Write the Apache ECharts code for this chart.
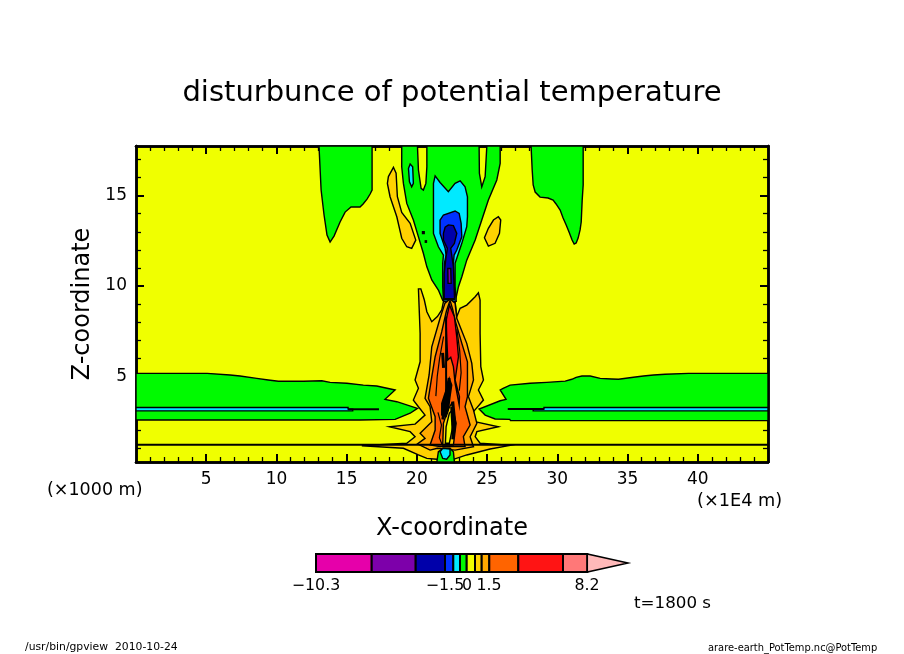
<!DOCTYPE html>
<html>
<head>
    <meta charset="UTF-8">
    <title>disturbunce of potential temperature</title>
    <style>html,body{margin:0;padding:0;background:#fff}#chart{width:904px;height:654px}</style>
</head>
<body>
<div id="chart"></div>
<script src="https://cdn.jsdelivr.net/npm/echarts@6/dist/echarts.min.js"></script>
<script type="text/javascript">
// contour outlines, [x (1E4 m), z (1000 m)]
var leftPlume = [[13.03,17.75],[13.18,15.31],[13.39,13.93],[13.60,12.82],[13.82,12.43],[14.10,12.76],[14.53,13.54],[14.89,14.09],[15.31,14.37],[15.95,14.37],[16.17,14.54],[16.45,14.81],[16.67,15.09],[16.81,15.31],[16.81,17.75]];
var rightPlume = [[28.13,17.75],[28.21,16.42],[28.28,15.59],[28.42,15.20],[28.77,14.92],[29.34,14.87],[29.70,14.76],[29.91,14.54],[30.20,14.20],[30.41,13.76],[30.63,13.37],[30.84,12.98],[31.05,12.54],[31.20,12.32],[31.34,12.38],[31.48,12.65],[31.62,13.10],[31.70,13.54],[31.77,14.76],[31.84,15.59],[31.84,17.75]];
var centerGreen = [[18.92,17.75],[18.92,16.60],[19.04,15.68],[19.28,14.57],[19.75,13.65],[20.11,12.72],[20.46,11.81],[20.71,11.06],[21.06,10.33],[21.53,9.77],[21.84,9.20],[22.72,9.10],[22.96,9.96],[23.20,10.51],[23.55,11.43],[24.15,12.54],[24.62,13.65],[25.09,14.76],[25.69,15.87],[25.93,16.79],[25.93,17.75],[24.98,17.75],[24.86,16.05],[24.62,15.49],[24.45,16.24],[24.43,17.75],[20.71,17.75],[20.71,16.60],[20.64,15.68],[20.46,15.31],[20.30,15.40],[20.11,16.42],[20.04,17.75]];
var leftBand = [[0,5.16],[5.06,5.16],[6.70,5.07],[7.41,5.01],[8.60,4.88],[9.42,4.79],[10.14,4.72],[11.92,4.72],[13.23,4.75],[13.82,4.66],[15.01,4.61],[16.19,4.51],[17.14,4.46],[18.45,4.24],[17.73,3.72],[18.57,3.59],[20.04,3.22],[19.52,2.95],[18.45,2.61],[15.95,2.58],[0,2.58]];
var rightBand = [[45,5.16],[39.34,5.16],[37.68,5.11],[36.85,5.07],[36.13,5.01],[35.42,4.94],[34.35,4.83],[33.88,4.85],[33.05,4.88],[32.34,5.01],[31.75,5.01],[31.34,4.94],[31.03,4.83],[30.56,4.73],[29.25,4.66],[28.06,4.61],[26.64,4.51],[26.14,4.33],[25.93,4.24],[26.35,3.72],[25.93,3.64],[24.43,3.18],[24.86,2.85],[25.57,2.63],[26.61,2.61],[26.67,2.54],[45,2.54]];
var bottomGreen = [[21.42,0.25],[21.53,0.82],[21.89,1.01],[22.36,1.01],[22.60,0.82],[22.67,0.25]];

var smallCyan = [[19.40,16.51],[19.52,16.75],[19.70,16.60],[19.75,15.68],[19.63,15.49],[19.47,15.77]];
var bigCyan = [[21.30,16.10],[21.65,15.73],[22.24,15.22],[22.72,15.68],[23.08,15.82],[23.43,15.49],[23.60,14.94],[23.60,13.83],[23.55,13.28],[23.20,12.36],[22.96,11.81],[22.72,11.25],[22.72,9.96],[22.80,9.15],[21.90,9.15],[21.84,9.96],[21.84,11.25],[21.89,11.71],[21.53,12.17],[21.18,12.91],[21.18,15.68]];
var leftBandCyan = [[0,3.27],[15.1,3.27],[15.1,3.18],[15.43,3.18],[15.43,3.08],[0,3.08]];
var rightBandCyan = [[28.28,3.08],[28.28,3.18],[29.05,3.18],[29.05,3.27],[45,3.27],[45,3.08]];
var bottomCyan = [[21.65,0.82],[21.84,1.01],[22.36,0.96],[22.36,0.64],[22.12,0.40],[21.84,0.45]];
var blueCore = [[21.65,13.65],[21.89,13.93],[22.72,14.15],[23.01,14.02],[23.15,13.47],[23.20,12.72],[22.84,11.99],[22.65,11.71],[22.60,11.25],[22.70,9.25],[21.92,9.25],[21.96,11.25],[22.08,11.71],[22.01,12.08],[21.65,12.91]];
var navyCore = [[21.89,12.91],[22.01,13.25],[22.24,13.38],[22.60,13.34],[22.84,12.91],[22.67,12.36],[22.41,12.08],[22.48,11.71],[22.60,11.06],[22.68,9.30],[21.94,9.30],[21.94,10.70],[22.08,11.62],[22.17,12.08],[21.89,12.54]];
var purpleCore = [[22.20,10.97],[22.41,10.97],[22.44,10.14],[22.22,10.14]];
var speckA = [[20.40,13.0],[20.52,13.0],[20.52,12.9],[20.40,12.9]];
var speckB = [[20.60,12.5],[20.68,12.5],[20.68,12.42],[20.60,12.42]];

var leftBlob = [[17.97,16.05],[18.33,16.57],[18.52,16.24],[18.61,14.94],[18.92,14.07],[19.52,13.47],[19.92,12.54],[19.63,12.08],[19.28,12.17],[18.92,12.64],[18.57,13.83],[18.09,14.94],[17.90,15.68]];
var rightBlob = [[25.80,13.83],[25.97,13.65],[25.88,12.91],[25.57,12.36],[25.09,12.21],[24.81,12.67],[25.09,13.19],[25.45,13.65]];
var goldPlume = [[20.11,9.84],[20.28,9.84],[20.46,9.40],[20.53,9.22],[20.71,8.57],[21.06,8.02],[21.46,8.30],[21.77,8.67],[21.89,9.13],[22.72,9.13],[22.84,8.30],[23.08,8.76],[23.55,8.94],[24.15,9.40],[24.38,9.62],[24.50,9.22],[24.50,7.38],[24.55,5.53],[24.74,4.79],[24.38,4.24],[24.74,3.68],[24.03,3.04],[23.55,2.58],[25.80,2.20],[24.27,1.93],[24.15,1.65],[24.50,1.29],[26.64,1.17],[25.21,0.97],[23.55,0.64],[22.60,0.40],[21.41,0.40],[20.71,0.45],[20.11,0.64],[19.04,1.01],[16.08,1.15],[19.28,1.29],[19.87,1.65],[19.52,1.93],[18.04,2.20],[19.87,2.35],[20.58,2.85],[20.11,3.31],[19.75,3.68],[20.11,4.33],[19.87,4.79],[20.23,5.80],[20.23,7.38]];
var amberPlume = [[21.65,8.21],[21.06,6.63],[20.87,5.07],[20.58,3.78],[20.94,3.31],[21.06,2.48],[20.23,1.84],[20.58,1.56],[20.04,1.25],[20.94,0.91],[21.46,1.01],[22.72,0.91],[24.03,1.10],[23.79,1.65],[24.27,2.39],[24.03,3.13],[23.67,3.87],[24.03,4.79],[23.91,5.71],[23.55,6.82],[22.84,8.21],[22.72,9.05],[22.36,9.28],[22.00,9.05]];
var orangePlume = [[21.77,7.47],[21.30,6.08],[21.06,4.97],[20.82,3.78],[21.30,2.76],[21.30,2.02],[20.94,1.19],[21.65,1.10],[22.36,1.10],[23.43,1.10],[23.31,1.65],[23.79,2.30],[23.43,3.31],[23.60,3.87],[23.60,5.80],[23.20,6.82],[22.72,8.11],[22.55,8.70],[22.36,9.20],[22.10,8.60],[22.01,8.30]];
var redPlume = [[22.32,8.95],[22.08,8.11],[22.12,7.19],[22.20,5.90],[22.41,6.05],[22.60,5.53],[22.72,4.61],[23.01,3.41],[23.03,3.87],[22.72,4.79],[22.96,6.08],[22.84,7.19],[22.67,8.30]];
var goldStripe = [[22.20,3.13],[22.48,3.50],[22.79,2.39],[22.60,1.19],[21.84,1.19],[21.89,2.39]];
var yellowStripe = [[22.31,2.95],[22.53,3.13],[22.60,2.39],[22.31,1.29],[22.03,1.29],[22.08,2.20]];
var blackPatch = [[22.31,4.88],[22.48,4.51],[22.36,3.87],[22.24,3.13],[22.08,2.76],[21.77,2.85],[21.77,3.50],[22.01,4.07],[22.17,4.42]];

// single contour lines
var lineLow = [[0,1.21],[45,1.21]];
var lineLeftEnd = [[15.1,3.17],[17.3,3.17]];
var lineRightEnd = [[26.47,3.18],[29.05,3.18]];
var lineCenter = [[22.08,8.3],[22.08,4.0]];
var lineDarkA = [[21.83,6.29],[21.90,5.46]];
var lineDarkB = [[22.48,3.3],[22.6,1.6]];
var lineDarkC = [[22.3,4.9],[22.0,3.5],[21.85,2.6]];
var lineDarkD = [[22.55,3.6],[22.7,2.4],[22.55,1.5]];
var lineThinA = [[21.5,3.0],[21.75,2.3],[21.6,1.6],[21.8,1.2]];
var lineThinB = [[21.9,7.2],[21.62,6.0],[21.45,5.0],[21.35,3.9]];
var lineThinC = [[22.85,7.6],[23.05,6.4],[23.15,5.2],[23.02,4.2]];

// tick values
var xMajor = [5, 10, 15, 20, 25, 30, 35, 40];
var xMinor = [1,2,3,4,6,7,8,9,11,12,13,14,16,17,18,19,21,22,23,24,26,27,28,29,31,32,33,34,36,37,38,39,41,42,43,44];
var zMajor = [5, 10, 15];
var zMinor = [1,2,3,4,6,7,8,9,11,12,13,14,16,17];

// colour bar, cell widths along the bar and their levels
var barWidths = [55.7, 44, 29.3, 8.3, 6.7, 6.7, 8.3, 6.7, 7.6, 29, 44.7, 24.3];
var barTicks = [0, 129, 151, 173, 271];
var barLabels = ['\u221210.3', '\u22121.5', '0', '1.5', '8.2'];
var barEnd = 312;

var YELLOW = '#f0ff00', GREEN = '#00fa00', CYAN = '#00eaff', BLUE = '#0032ff', NAVY = '#0000aa', PURPLE = '#7d00aa';
var GOLD = '#ffd200', AMBER = '#ffaa00', ORANGE = '#ff6400', RED = '#ff1414', BLACK = '#000';
var barColors = ['#e600aa', PURPLE, NAVY, BLUE, CYAN, GREEN, YELLOW, GOLD, AMBER, ORANGE, RED, '#ff7878'];
var arrowColor = '#ffb9b9';

var fills = [
    [leftPlume, GREEN], [rightPlume, GREEN], [centerGreen, GREEN], [leftBand, GREEN], [rightBand, GREEN],
    [smallCyan, CYAN], [bigCyan, CYAN], [leftBandCyan, CYAN], [rightBandCyan, CYAN],
    [blueCore, BLUE], [navyCore, NAVY], [purpleCore, PURPLE], [speckA, BLACK], [speckB, BLACK],
    [leftBlob, GOLD], [rightBlob, GOLD], [goldPlume, GOLD], [amberPlume, AMBER], [orangePlume, ORANGE], [redPlume, RED],
    [goldStripe, GOLD], [yellowStripe, YELLOW], [blackPatch, BLACK],
    [bottomGreen, GREEN], [bottomCyan, CYAN]
];
var lines = [lineLow, lineLeftEnd, lineRightEnd, lineCenter];
var thickLines = [lineDarkA, lineDarkB, lineDarkC, lineDarkD];
var thinLines = [lineThinA, lineThinB, lineThinC];
var allLines = lines.concat(thickLines, thinLines);

var FONT = '"DejaVu Sans"';
var chart = echarts.init(document.getElementById('chart'));

// one x and one z axis per tick set and side, frame is drawn by the axis lines
function xAxisOf(pos, ticks, len, extra) {
    return Object.assign({
        type: 'value', gridIndex: 0, min: 0, max: 45, position: pos,
        axisLine: {show: true, onZero: false, lineStyle: {color: BLACK, width: 2.5}},
        axisTick: {show: true, inside: true, length: len, customValues: ticks, lineStyle: {color: BLACK, width: len > 5 ? 2 : 1.3}},
        axisLabel: {show: false}, splitLine: {show: false}
    }, extra);
}
function zAxisOf(pos, ticks, len, extra) {
    return Object.assign({
        type: 'value', gridIndex: 0, min: 0.25, max: 17.75, position: pos,
        axisLine: {show: true, onZero: false, lineStyle: {color: BLACK, width: 2.5}},
        axisTick: {show: true, inside: true, length: len, customValues: ticks, lineStyle: {color: BLACK, width: len > 5 ? 2 : 1.3}},
        axisLabel: {show: false}, splitLine: {show: false}
    }, extra);
}

function renderFill(params, api) {
    var item = fills[api.value(0)];
    return {
        type: 'polygon',
        shape: {points: item[0].map(function (p) { return api.coord(p); })},
        style: {fill: item[1], stroke: BLACK, lineWidth: 1.4}
    };
}
function renderLine(params, api) {
    var line = allLines[api.value(0)];
    var width = 2;
    if (thickLines.indexOf(line) >= 0) width = 3;
    if (thinLines.indexOf(line) >= 0) width = 1.2;
    return {
        type: 'polyline',
        shape: {points: line.map(function (p) { return api.coord(p); })},
        style: {fill: null, stroke: BLACK, lineWidth: width}
    };
}
function renderCell(params, api) {
    var a = api.coord([api.value(0), 0]);
    var b = api.coord([api.value(1), 1]);
    return {
        type: 'rect',
        shape: {x: a[0], y: b[1], width: b[0] - a[0], height: a[1] - b[1]},
        style: {fill: barColors[api.value(2)], stroke: BLACK, lineWidth: 2}
    };
}
function renderArrow(params, api) {
    var a = api.coord([api.value(0), 0]);
    var b = api.coord([api.value(0), 1]);
    var tip = api.coord([barEnd, 0.5]);
    return {
        type: 'polygon',
        shape: {points: [a, b, tip]},
        style: {fill: arrowColor, stroke: BLACK, lineWidth: 1.5}
    };
}

var barStart = 0;
var barCells = barWidths.map(function (w, i) {
    var cell = [barStart, barStart + w, i];
    barStart += w;
    return cell;
});

function note(text, x, y, size) {
    return {type: 'text', left: x, top: y, style: {text: text, fontFamily: FONT, fontSize: size, fill: BLACK}};
}

chart.setOption({
    animation: false,
    backgroundColor: '#fff',
    title: {
        text: 'disturbunce of potential temperature',
        left: 447, top: 74, textAlign: 'center',
        textStyle: {fontFamily: FONT, fontSize: 29, fontWeight: 'normal', color: BLACK}
    },
    grid: [
        {left: 136, top: 146, width: 632, height: 316, backgroundColor: YELLOW, show: true, borderWidth: 0},
        {left: 316, top: 554, width: 312, height: 18}
    ],
    xAxis: [
        xAxisOf('bottom', xMajor, 8, {
            axisLabel: {show: true, customValues: xMajor, margin: 9, fontFamily: FONT, fontSize: 17, color: BLACK},
            name: 'X-coordinate', nameLocation: 'middle', nameGap: 55,
            nameTextStyle: {fontFamily: FONT, fontSize: 24, color: BLACK}
        }),
        xAxisOf('bottom', xMinor, 5),
        xAxisOf('top', xMajor, 8),
        xAxisOf('top', xMinor, 5),
        {
            type: 'value', gridIndex: 1, min: 0, max: barEnd, position: 'bottom',
            axisLine: {show: false},
            axisTick: {show: false},
            axisLabel: {
                show: true, customValues: barTicks, margin: 6, fontFamily: FONT, fontSize: 15.8, color: BLACK,
                formatter: function (v) { return barLabels[barTicks.indexOf(v)]; }
            },
            splitLine: {show: false}
        }
    ],
    yAxis: [
        zAxisOf('left', zMajor, 8, {
            axisLabel: {show: true, customValues: zMajor, margin: 9, fontFamily: FONT, fontSize: 17, color: BLACK},
            name: 'Z-coordinate', nameLocation: 'middle', nameGap: 40,
            nameTextStyle: {fontFamily: FONT, fontSize: 24, color: BLACK}
        }),
        zAxisOf('left', zMinor, 5),
        zAxisOf('right', zMajor, 8),
        zAxisOf('right', zMinor, 5),
        {type: 'value', gridIndex: 1, min: 0, max: 1, show: false}
    ],
    series: [
        {
            type: 'custom', xAxisIndex: 0, yAxisIndex: 0, silent: true, clip: true, z: 2,
            data: fills.map(function (f, i) { return [i]; }),
            encode: {x: -1, y: -1},
            renderItem: renderFill
        },
        {
            type: 'custom', xAxisIndex: 0, yAxisIndex: 0, silent: true, clip: true, z: 3,
            data: allLines.map(function (l, i) { return [i]; }),
            encode: {x: -1, y: -1},
            renderItem: renderLine
        },
        {
            type: 'custom', xAxisIndex: 4, yAxisIndex: 4, silent: true,
            data: barCells, encode: {x: [0, 1], y: -1},
            renderItem: renderCell
        },
        {
            type: 'custom', xAxisIndex: 4, yAxisIndex: 4, silent: true,
            data: [[barStart]], encode: {x: 0, y: -1},
            renderItem: renderArrow
        }
    ],
    graphic: [
        note('(\u00d71000 m)', 47, 481, 17.5),
        note('(\u00d71E4 m)', 697, 492, 17.7),
        note('t=1800 s', 634, 595, 16.7),
        note('/usr/bin/gpview  2010-10-24', 25, 642, 10.8),
        note('arare-earth_PotTemp.nc@PotTemp', 708, 643, 9.9)
    ]
});
</script>
</body>
</html>
